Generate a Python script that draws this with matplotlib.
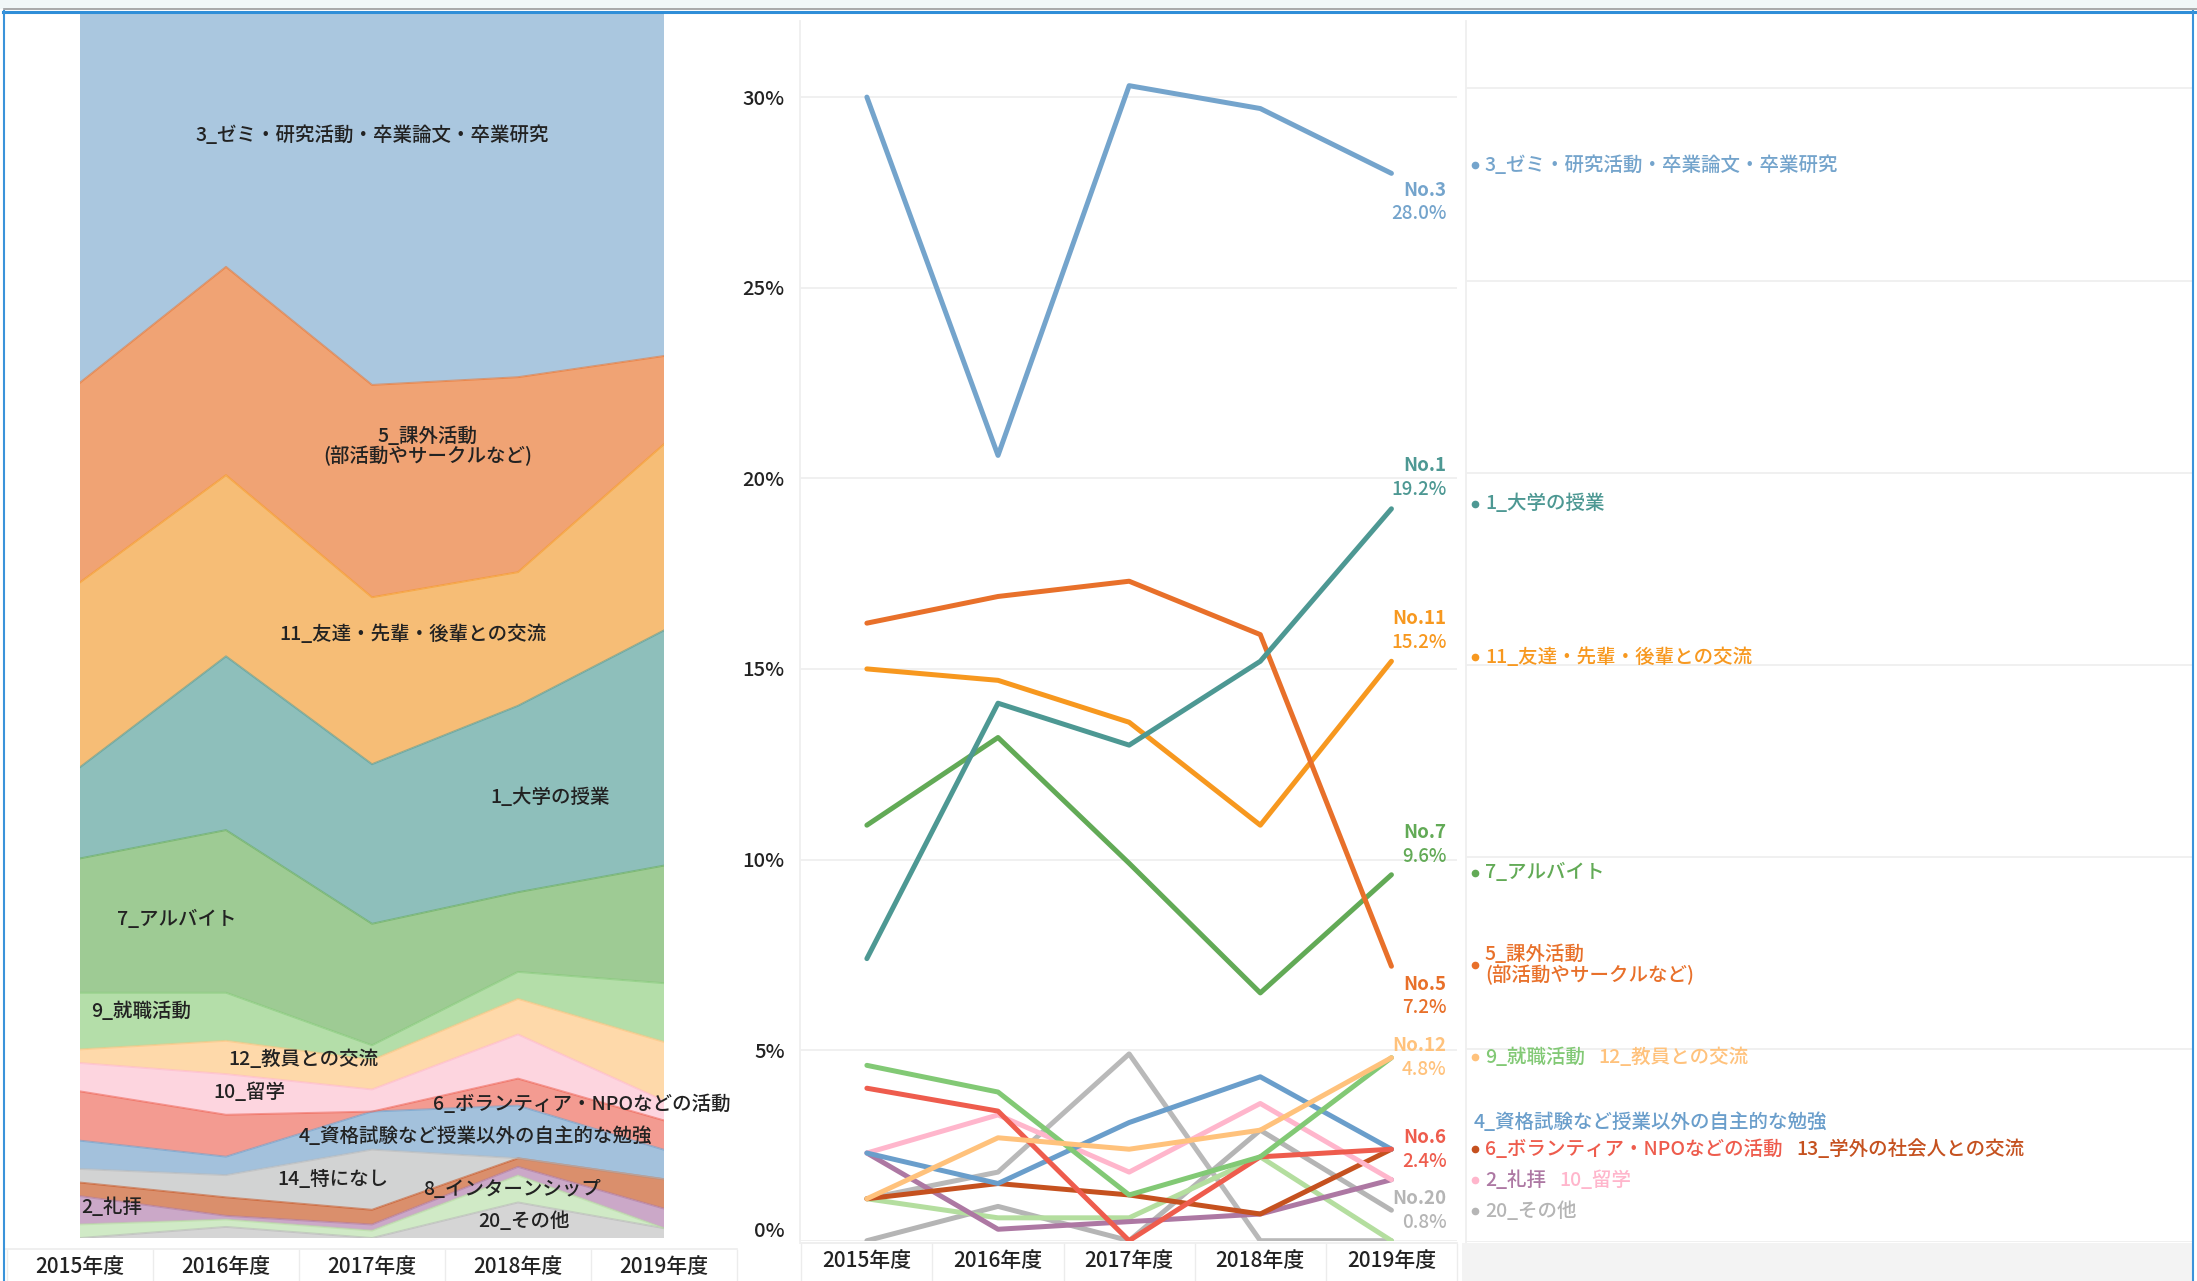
import numpy as np
import matplotlib
matplotlib.use("Agg")
from matplotlib import pyplot as plt
from matplotlib.patches import Rectangle
from matplotlib.lines import Line2D
import matplotlib.transforms as mtransforms

plt.rcParams['font.family'] = ['Noto Sans CJK JP', 'DejaVu Sans']
plt.rcParams['font.weight'] = 'medium'

# share of answers per category (%), 2015..2019
years = ['2015年度', '2016年度', '2017年度', '2018年度', '2019年度']
c1 = [7.4, 14.1, 13.0, 15.2, 19.2]
c2 = [2.3, 0.3, 0.5, 0.7, 1.6]
c3 = [30.0, 20.6, 30.3, 29.7, 28.0]
c4 = [2.3, 1.5, 3.1, 4.3, 2.4]
c5 = [16.2, 16.9, 17.3, 15.9, 7.2]
c6 = [4.0, 3.4, 0.0, 2.2, 2.4]
c7 = [10.9, 13.2, 9.9, 6.5, 9.6]
c8 = [1.1, 0.6, 0.6, 2.2, 0.0]
c9 = [4.6, 3.9, 1.2, 2.2, 4.8]
c10 = [2.3, 3.3, 1.8, 3.6, 1.6]
c11 = [15.0, 14.7, 13.6, 10.9, 15.2]
c12 = [1.1, 2.7, 2.4, 2.9, 4.8]
c13 = [1.1, 1.5, 1.2, 0.7, 2.4]
c14 = [1.1, 1.8, 4.9, 0.0, 0.0]
c20 = [0.0, 0.9, 0.0, 2.9, 0.8]

values = {1: c1, 2: c2, 3: c3, 4: c4, 5: c5, 6: c6, 7: c7, 8: c8, 9: c9,
          10: c10, 11: c11, 12: c12, 13: c13, 14: c14, 20: c20}

names = {1: '1_大学の授業', 2: '2_礼拝', 3: '3_ゼミ・研究活動・卒業論文・卒業研究',
         4: '4_資格試験など授業以外の自主的な勉強', 5: '5_課外活動\n(部活動やサークルなど)',
         6: '6_ボランティア・NPOなどの活動', 7: '7_アルバイト', 8: '8_インターンシップ',
         9: '9_就職活動', 10: '10_留学', 11: '11_友達・先輩・後輩との交流',
         12: '12_教員との交流', 13: '13_学外の社会人との交流', 14: '14_特になし', 20: '20_その他'}

line_colors = {3: '#74a4cc', 1: '#4d9893', 5: '#e8702a', 11: '#f7981f', 7: '#62aa56',
               9: '#82c975', 8: '#b4de9f', 6: '#ee5c4d', 10: '#ffb6cc', 4: '#6a9ecb',
               12: '#ffc27c', 14: '#b9b9b9', 20: '#b5b5b5', 2: '#ad78a3', 13: '#c5511f'}
area_colors = {3: '#aac7df', 5: '#f0a374', 11: '#f6bd76', 1: '#8ebfbb', 7: '#9ecb94',
               9: '#b4dea9', 12: '#fed9aa', 10: '#fdd5df', 6: '#f39b91', 4: '#a3c1dc',
               14: '#d2d3d3', 13: '#da8f6c', 2: '#cba8c8', 8: '#d0eac6', 20: '#d5d5d5'}

W, H = 2197, 1281
def fx(px):
    return px / W
def fy(py):
    return 1 - py / H

fig = plt.figure(figsize=(W / 100, H / 100), dpi=100)
fig.patch.set_facecolor('white')
x = np.arange(len(years))
sep = '#ececec'

# ---------------- left: 100% stacked area ----------------
stack_order = [20, 8, 2, 13, 14, 4, 6, 10, 12, 9, 7, 1, 11, 5, 3]
M = np.array([values[k] for k in stack_order], dtype=float)
M = M / M.sum(axis=0) * 100
cum = np.vstack([np.zeros(len(years)), np.cumsum(M, axis=0)])

ax1 = fig.add_axes([fx(80), fy(1238), fx(664) - fx(80), (1238 - 13) / H])
for i, k in enumerate(stack_order):
    ax1.fill_between(x, cum[i], cum[i + 1], facecolor=area_colors[k], edgecolor='none', lw=0)
    if i < len(stack_order) - 1:
        ax1.plot(x, cum[i + 1], color=line_colors[k], lw=1.4, alpha=0.55)
ax1.set_xlim(0, 4)
ax1.set_ylim(0, 100)
ax1.set_yticks([])
ax1.set_xticks(x, years)
ax1.tick_params(axis='x', length=0, pad=13, labelsize=15, colors='#222222')
for s in ax1.spines.values():
    s.set_visible(False)

area_labels = [(3, 2.0, 90.0), (5, 2.38, 64.6), (11, 2.28, 49.3), (1, 3.22, 36.0),
               (7, 0.66, 26.0), (9, 0.42, 18.5), (12, 1.53, 14.6), (10, 1.16, 11.9),
               (6, 3.44, 10.9), (4, 2.71, 8.35), (14, 1.73, 4.8), (8, 2.96, 4.0),
               (2, 0.22, 2.5), (20, 3.04, 1.4)]
for k, lx, ly in area_labels:
    ax1.text(lx, ly, names[k], ha='center', va='center', fontsize=14,
             color='#222222', multialignment='center', linespacing=1.0)

t1 = mtransforms.blended_transform_factory(ax1.transData, fig.transFigure)
for xs in np.arange(-0.5, 5, 1):
    fig.add_artist(Line2D([xs, xs], [fy(1250), 0], transform=t1, color=sep, lw=1))
fig.add_artist(Line2D([fx(4), fx(737)], [fy(1249), fy(1249)], color=sep, lw=1.2))

# ---------------- middle: lines ----------------
ax2 = fig.add_axes([fx(800), fy(1240.7), fx(1457) - fx(800), (1240.7 - 21) / H])
ax2.set_facecolor('none')
draw_order = [20, 14, 8, 2, 13, 10, 4, 6, 9, 12, 7, 11, 5, 1, 3]
for k in draw_order:
    ax2.plot(x, values[k], color=line_colors[k], lw=3.6,
             solid_capstyle='round', solid_joinstyle='round')
ax2.set_xlim(-0.51, 4.5)
ax2.set_ylim(0, (1240.7 - 21) / 38.12)
ax2.set_yticks(range(0, 31, 5), [f'{v}%' for v in range(0, 31, 5)])
ax2.set_xticks(x, years)
ax2.tick_params(axis='x', length=0, pad=7, labelsize=15, colors='#222222')
ax2.tick_params(axis='y', length=0, pad=11, labelsize=14.5, colors='#222222')
ax2.get_yticklabels()[0].set_verticalalignment('bottom')
ax2.grid(axis='y', color='#efefef', lw=1.3)
ax2.set_axisbelow(True)
for s in ['top', 'right', 'bottom']:
    ax2.spines[s].set_visible(False)
ax2.spines['left'].set_color('#efefef')
ax2.spines['left'].set_linewidth(1.3)

# end labels: (category, label centre offset from the last value)
end_labels = [(3, -0.75), (1, 0.82), (11, 0.8), (7, 0.79), (5, -0.78),
              (12, 0.0), (6, 0.0), (20, 0.0)]
for k, off in end_labels:
    v = values[k][-1]
    c = v + off
    ax2.text(4.42, c + 0.31, f'No.{k}', ha='right', va='center', fontsize=13.5,
             fontweight='bold', color=line_colors[k], clip_on=False)
    ax2.text(4.42, c - 0.31, f'{v:.1f}%', ha='right', va='center', fontsize=13.5,
             color=line_colors[k], clip_on=False)

t2 = mtransforms.blended_transform_factory(ax2.transData, fig.transFigure)
for xs in np.arange(-0.5, 5, 1):
    fig.add_artist(Line2D([xs, xs], [fy(1244), 0], transform=t2, color=sep, lw=1))
fig.add_artist(Line2D([fx(800), fx(1457)], [fy(1243), fy(1243)], color=sep, lw=1.2))

# ---------------- right: legend pane ----------------
fig.patches.append(Rectangle((fx(1462), 0), fx(2193) - fx(1462), 38 / H,
                             transform=fig.transFigure, fc='#f3f3f3', ec='none'))
ax3 = fig.add_axes([fx(1466), fy(1241.6), fx(2193) - fx(1466), (1241.6 - 21) / H])
ax3.set_facecolor('none')
ax3.set_xlim(0, 1)
ax3.set_ylim(0, (1241.6 - 21) / 38.44)
ax3.set_yticks(range(0, 31, 5))
ax3.set_xticks([])
ax3.tick_params(axis='y', length=0, labelleft=False)
ax3.grid(axis='y', color='#efefef', lw=1.3)
for s in ['top', 'right', 'bottom']:
    ax3.spines[s].set_visible(False)
ax3.spines['left'].set_color('#efefef')
ax3.spines['left'].set_linewidth(1.3)

# rows of the legend, grouped where the 2019 values meet
legend_rows = [([3], 0, True), ([1], 0, True), ([11], 0, True), ([7], 0, True),
               ([5], 0, True), ([9, 12], 0, True), ([4], 0.7, False),
               ([6, 13], 0, True), ([2, 10], 0, True), ([20], 0, True)]
for keys, nudge, dot in legend_rows:
    y = values[keys[0]][-1] + nudge
    if dot:
        ax3.plot(0.012, y, 'o', ms=4.5, color=line_colors[keys[-1]], clip_on=False)
        tx = 0.026
    else:
        tx = 0.01
    prev = ax3.text(tx, y, names[keys[0]], ha='left', va='center', fontsize=14,
                    color=line_colors[keys[0]], linespacing=1.0)
    for k in keys[1:]:
        prev = ax3.annotate(names[k], xy=(1, 0.5), xycoords=prev, xytext=(10, 0),
                            textcoords='offset points', ha='left', va='center',
                            fontsize=14, color=line_colors[k])

# ---------------- frame ----------------
fig.patches.append(Rectangle((0, fy(9)), 1, 9 / H, transform=fig.transFigure,
                             fc='#f1f7f7', ec='none'))
fig.add_artist(Line2D([fx(4), 1], [fy(9), fy(9)], color='#9b9b9b', lw=1.2))
fig.add_artist(Line2D([fx(3), 1], [fy(11.5), fy(11.5)], color='#2f8ed8', lw=2.2))
fig.add_artist(Line2D([fx(4), fx(4)], [0, fy(11)], color='#3a93da', lw=1.5))
fig.add_artist(Line2D([fx(2193), fx(2193)], [0, fy(11)], color='#3a93da', lw=1.5))

plt.savefig('out.png', dpi=100)
